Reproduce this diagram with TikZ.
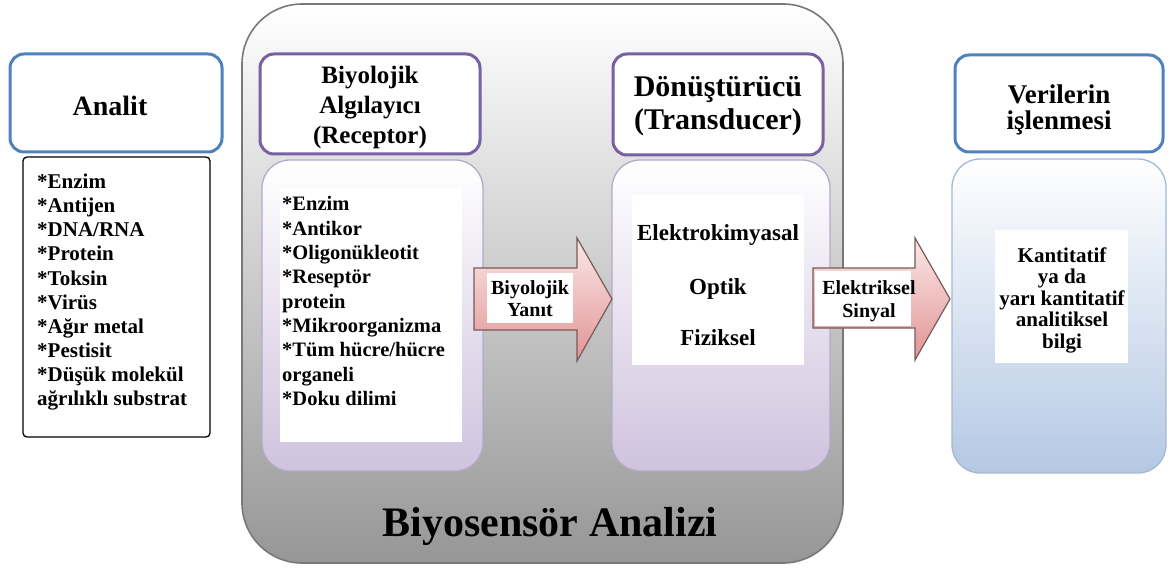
\documentclass[tikz,border=0pt]{standalone}
\usepackage{fontspec}
\setmainfont{Liberation Serif}
\definecolor{hblue}{RGB}{79,129,189}
\definecolor{hpurple}{RGB}{120,96,165}
\definecolor{bigbot}{RGB}{150,150,150}
\definecolor{bigline}{RGB}{120,120,120}
\definecolor{lavbot}{RGB}{207,195,222}
\definecolor{lavline}{RGB}{180,170,200}
\definecolor{bluebot}{RGB}{180,200,228}
\definecolor{blueline}{RGB}{165,185,212}
\definecolor{pinktop}{RGB}{250,232,232}
\definecolor{pinkbot}{RGB}{226,148,148}
\definecolor{arrline}{RGB}{120,90,90}
\begin{document}
\begin{tikzpicture}[x=1pt,y=-1pt,
  box/.style={inner sep=0pt, outer sep=0pt},
  hdrblue/.style={box, draw=hblue, line width=3pt, fill=white, rounded corners=14pt},
  hdrpurple/.style={box, draw=hpurple, line width=3pt, fill=white, rounded corners=14pt},
  lavbox/.style={box, draw=lavline, line width=1.3pt, top color=white, bottom color=lavbot, rounded corners=28pt},
  bluebox/.style={box, draw=blueline, line width=1.3pt, top color=white, bottom color=bluebot, rounded corners=28pt},
  whitebox/.style={box, fill=white},
  blockarrow/.style={draw=arrline, line width=1.2pt, top color=pinktop, bottom color=pinkbot},
  txt/.style={inner sep=0pt, font=\bfseries\fontsize{#1}{#1}\selectfont},
]
\useasboundingbox (0,0) rectangle (1169,569);
% big container
\node[box, draw=bigline, line width=1.6pt, top color=white, bottom color=bigbot, rounded corners=60pt,
      minimum width=601pt, minimum height=559pt] (big) at (542.5,283.5) {};
\node[txt=42, anchor=base] (title) at (550,536) {Biyosensör Analizi};

% Analit
\node[hdrblue, minimum width=212pt, minimum height=98pt] (analitH) at (116,103) {};
\node[txt=28, anchor=base] (analitT) at (110,116) {Analit};
\node[box, draw=black, line width=1.3pt, fill=white, rounded corners=4pt,
      minimum width=187pt, minimum height=280pt] (analitL) at (116.5,297) {};
\foreach \t [count=\i] in {*Enzim,*Antijen,*DNA/RNA,*Protein,*Toksin,*Virüs,*Ağır metal,*Pestisit,*Düşük molekül,ağrılıklı substrat}
  \node[txt=21, anchor=base west] (al\i) at (37,{189+24*(\i-1)}) {\t};

% Receptor
\node[hdrpurple, minimum width=220pt, minimum height=100pt] (recH) at (370,104) {};
\node[txt=25, anchor=base] (rh1) at (370,84) {Biyolojik};
\node[txt=25, anchor=base] (rh2) at (370,114) {Algılayıcı};
\node[txt=25, anchor=base] (rh3) at (370,144) {(Receptor)};
\node[lavbox, minimum width=221pt, minimum height=311pt] (recC) at (372.5,315.5) {};
\node[whitebox, minimum width=182pt, minimum height=254pt] (recW) at (371,315) {};
\foreach \t [count=\i] in {*Enzim,*Antikor,*Oligonükleotit,*Reseptör,protein,*Mikroorganizma,*Tüm hücre/hücre,organeli,*Doku dilimi}
  \node[txt=20.5, anchor=base west] (rl\i) at (282,{211+24.3*(\i-1)}) {\t};

% Transducer
\node[hdrpurple, minimum width=210pt, minimum height=101pt] (traH) at (718,104.5) {};
\node[txt=30, anchor=base] (th1) at (718,97) {Dönüştürücü};
\node[txt=30, anchor=base] (th2) at (718,130) {(Transducer)};
\node[lavbox, minimum width=218pt, minimum height=311pt] (traC) at (721,315.5) {};
\node[whitebox, minimum width=172pt, minimum height=170pt] (traW) at (718,280) {};
\node[txt=23, anchor=base] (tl1) at (718,240.5) {Elektrokimyasal};
\node[txt=23, anchor=base] (tl2) at (718,294.5) {Optik};
\node[txt=23, anchor=base] (tl3) at (718,345.5) {Fiziksel};

% Verilerin
\node[hdrblue, minimum width=208pt, minimum height=97pt] (verH) at (1059,103.5) {};
\node[txt=27, anchor=base] (vh1) at (1059,104) {Verilerin};
\node[txt=27, anchor=base] (vh2) at (1059,130) {işlenmesi};
\node[bluebox, minimum width=214pt, minimum height=314pt] (verC) at (1059,316) {};
\node[whitebox, minimum width=133pt, minimum height=133pt] (verW) at (1061.5,296.5) {};
\foreach \t [count=\i] in {Kantitatif,ya da,yarı kantitatif,analitiksel,bilgi}
  \node[txt=21, anchor=base] (vl\i) at (1062,{262+21.5*(\i-1)}) {\t};

% block arrow 1
\draw[blockarrow] (474,268) -- (577,268) -- (577,238) -- (612,299) -- (577,361) -- (577,330) -- (474,330) -- cycle;
\node[whitebox, minimum width=86pt, minimum height=50pt] (a1lab) at (530,298) {};
\node[txt=20, anchor=base] (a1t1) at (530,294.5) {Biyolojik};
\node[txt=20, anchor=base] (a1t2) at (530,316.5) {Yanıt};

% block arrow 2
\draw[blockarrow] (813,268) -- (915,268) -- (915,238) -- (950,299) -- (915,360) -- (915,328) -- (813,328) -- cycle;
\node[whitebox, minimum width=96pt, minimum height=55pt] (a2lab) at (863,298.5) {};
\node[txt=20, anchor=base] (a2t1) at (869,294.5) {Elektriksel};
\node[txt=20, anchor=base] (a2t2) at (869,317) {Sinyal};
\end{tikzpicture}
\end{document}
